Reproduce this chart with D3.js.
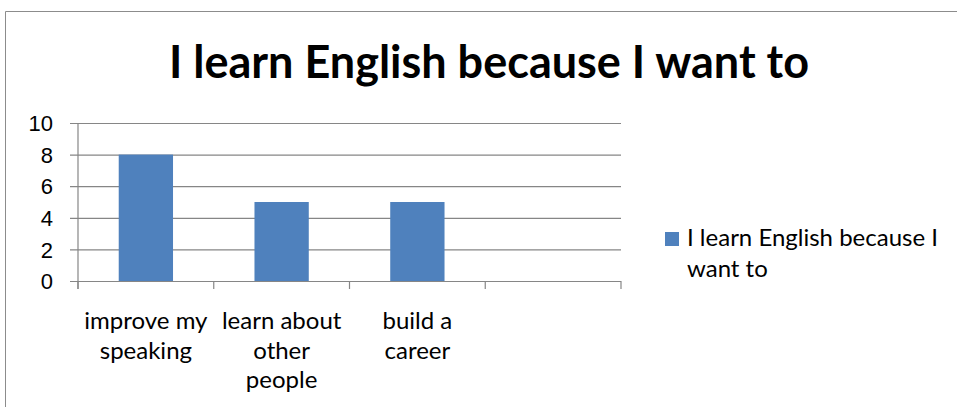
<!DOCTYPE html>
<html>
<head>
<meta charset="utf-8">
<script src="https://cdn.jsdelivr.net/npm/d3@7"></script>
<style>
  html, body { margin: 0; padding: 0; background: #fff; }
  svg { display: block; font-family: Lato, "Open Sans", sans-serif; }
</style>
</head>
<body>
<svg id="chart" width="957" height="407"></svg>
<script>
// Survey answers: "I learn English because I want to ..."
const chartTitle = "I learn English because I want to";
const seriesName = "I learn English because I want to";
const categories = ["improve my speaking", "learn about other people", "build a career", ""];
const categoryLines = [["improve my", "speaking"], ["learn about", "other", "people"], ["build a", "career"], []];
const values = [8, 5, 5, null];
const yTicks = [0, 2, 4, 6, 8, 10];
const legendLines = ["I learn English because I", "want to"];

const barColor = "#4F81BD";
const gridColor = "#868686";
const textColor = "#000";

const svg = d3.select("#chart");

// outer chart frame (top and left edges visible)
svg.append("path")
  .attr("d", "M5.5,407 V11.5 H957")
  .attr("fill", "none")
  .attr("stroke", "#8c8c8c")
  .attr("stroke-width", 1);

// title
svg.append("text")
  .attr("x", 489)
  .attr("y", 78)
  .attr("text-anchor", "middle")
  .attr("font-size", 45)
  .attr("font-weight", 700)
  .attr("fill", textColor)
  .text(chartTitle);

const plot = { left: 78, right: 621, top: 123, bottom: 281 };

const x = d3.scaleBand()
  .domain(categories.map((c, i) => i))
  .range([plot.left, plot.right])
  .paddingInner(0.6)
  .paddingOuter(0.3);

const xStep = (plot.right - plot.left) / categories.length;

const y = d3.scaleLinear()
  .domain([0, 10])
  .range([plot.bottom, plot.top]);

// horizontal gridlines with left tick marks
const yAxis = d3.axisLeft(y)
  .tickValues(yTicks)
  .tickSize(-(plot.right - plot.left))
  .tickSizeOuter(0)
  .tickFormat(d3.format("d"))
  .tickPadding(25);

const gy = svg.append("g")
  .attr("transform", `translate(${plot.left},0)`)
  .call(yAxis);
gy.select(".domain").remove();
gy.selectAll(".tick line")
  .attr("x1", -8)
  .attr("stroke", gridColor)
  .attr("stroke-width", 1.2);
gy.selectAll(".tick text")
  .attr("font-size", 22)
  .attr("fill", textColor)
  .attr("dy", "0.35em");

// bars
svg.append("g")
  .selectAll("rect")
  .data(values.map((v, i) => ({ v, i })).filter(d => d.v != null))
  .join("rect")
  .attr("x", d => x(d.i))
  .attr("width", x.bandwidth())
  .attr("y", d => y(d.v))
  .attr("height", d => y(0) - y(d.v))
  .attr("fill", barColor);

// vertical axis line
svg.append("line")
  .attr("x1", plot.left).attr("x2", plot.left)
  .attr("y1", plot.top).attr("y2", plot.bottom + 8)
  .attr("stroke", gridColor)
  .attr("stroke-width", 1.2);

// category boundary ticks along the baseline
const boundaries = d3.range(categories.length + 1).map(i => plot.left + i * xStep);
svg.append("g")
  .selectAll("line")
  .data(boundaries)
  .join("line")
  .attr("x1", d => d).attr("x2", d => d)
  .attr("y1", plot.bottom).attr("y2", plot.bottom + 8)
  .attr("stroke", gridColor)
  .attr("stroke-width", 1.2);

// category labels
const labels = svg.append("g")
  .selectAll("text")
  .data(categoryLines)
  .join("text")
  .attr("text-anchor", "middle")
  .attr("font-size", 24)
  .attr("fill", textColor)
  .attr("transform", (d, i) => `translate(${x(i) + x.bandwidth() / 2},329)`);
labels.selectAll("tspan")
  .data(d => d)
  .join("tspan")
  .attr("x", 0)
  .attr("y", (d, j) => j * 29.5)
  .text(d => d);

// legend
const legend = svg.append("g").attr("transform", "translate(665,232)");
legend.append("rect")
  .attr("width", 14).attr("height", 14)
  .attr("fill", barColor);
legend.append("text")
  .attr("font-size", 24)
  .attr("fill", textColor)
  .selectAll("tspan")
  .data(legendLines)
  .join("tspan")
  .attr("x", 22)
  .attr("y", (d, j) => 14 + j * 30.5)
  .text(d => d);
</script>
</body>
</html>
